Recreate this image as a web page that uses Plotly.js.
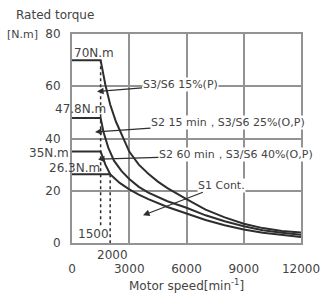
<!DOCTYPE html>
<html>
<head>
<meta charset="utf-8">
<script src="https://cdn.plot.ly/plotly-3.0.1.min.js"></script>
<style>html,body{margin:0;padding:0;background:#fff}#chart{width:325px;height:293px}</style>
</head>
<body>
<div id="chart"></div>
<script>
// Motor speed [min^-1] and rated torque [N.m]
const speedS3_15 = [0, 1500, 1750, 2000, 2300, 2700, 3000, 3500, 4000, 4500, 5000, 6000, 7000, 8000, 9000, 10000, 11000, 12000];
const torqueS3_15 = [70, 70, 60.5, 53, 46.5, 40, 35, 30, 26.5, 23.5, 21, 16.8, 12.8, 9.8, 7.4, 5.7, 4.6, 4.0];

const speedS2_15 = [0, 1500, 1650, 1900, 2200, 2600, 3000, 3500, 4000, 5000, 6000, 7000, 8000, 9000, 10000, 11000, 12000];
const torqueS2_15 = [47.8, 47.8, 42.5, 36.5, 31.5, 27.5, 24.5, 21.5, 19.3, 16, 13.5, 10.6, 8.3, 6.4, 4.9, 3.9, 3.2];

const speedS2_60 = [0, 1500, 1750, 2000];
const torqueS2_60 = [35, 35, 30, 26.3];

const speedS1 = [0, 2000, 2500, 3000, 3500, 4000, 5000, 6000, 7000, 8000, 9000, 10000, 11000, 12000];
const torqueS1 = [26.3, 26.3, 23, 20.5, 18.5, 16.8, 13.8, 11.2, 8.8, 6.8, 5.2, 3.9, 3.0, 2.3];

const markerSpeeds = [1500, 2000];
const dotted1500 = {x: [1500, 1500], y: [70, 6.8]};
const dotted2000 = {x: [2000, 2000], y: [26.3, 0]};

const xTicks = [0, 3000, 6000, 9000, 12000];
const yTicks = [0, 20, 40, 60, 80];

const curveLabels = {
  s3: "S3/S6 15%(P)",
  s215: "S2 15 min，S3/S6 25%(O,P)",
  s260: "S2 60 min，S3/S6 40%(O,P)",
  s1: "S1 Cont."
};

const ink = "#2e2e2e";
const txt = "#444444";
const grid = "#939393";
const fontFam = "'DejaVu Sans', sans-serif";

function curve(x, y, name) {
  return {x: x, y: y, type: "scatter", mode: "lines", name: name,
    line: {color: ink, width: 2}, hoverinfo: "skip"};
}
function dotted(d) {
  return {x: d.x, y: d.y, type: "scatter", mode: "lines",
    line: {color: ink, width: 1.5, dash: "dot"}, hoverinfo: "skip"};
}

const data = [
  dotted(dotted1500), dotted(dotted2000),
  curve(speedS3_15, torqueS3_15, curveLabels.s3),
  curve(speedS2_15, torqueS2_15, curveLabels.s215),
  curve(speedS2_60, torqueS2_60, curveLabels.s260),
  curve(speedS1, torqueS1, curveLabels.s1)
];

function lbl(x, y, text, xanchor, xref, yref) {
  return {x: x, y: y, xref: xref || "x", yref: yref || "y", text: text, showarrow: false,
    xanchor: xanchor || "center", yanchor: "middle", font: {size: 12, color: txt, family: fontFam}};
}
function arr(tx, ty, hx, hy, text) {
  return {x: hx, y: hy, ax: tx, ay: ty, axref: "x", ayref: "y", xref: "x", yref: "y",
    text: text, showarrow: true, arrowhead: 2, arrowsize: 1.1, arrowwidth: 1.2, arrowcolor: ink,
    bgcolor: "#ffffff", borderpad: 0, font: {size: 11, color: txt, family: fontFam}};
}

const layout = {
  width: 325, height: 293,
  margin: {l: 72, r: 24, t: 34, b: 50},
  paper_bgcolor: "#fff", plot_bgcolor: "#fff",
  showlegend: false,
  font: {family: fontFam, size: 12, color: txt},
  xaxis: {range: [0, 12000], tickvals: xTicks, ticktext: xTicks.map(String),
    showgrid: true, gridcolor: grid, gridwidth: 2, zeroline: false,
    showline: true, mirror: true, linecolor: grid, linewidth: 2,
    ticks: "", ticklabelstandoff: 14, tickfont: {size: 12, color: txt}},
  yaxis: {range: [0, 80], tickvals: yTicks, ticktext: yTicks.map(String),
    showgrid: true, gridcolor: grid, gridwidth: 2, zeroline: false,
    showline: true, mirror: true, linecolor: grid, linewidth: 2,
    ticks: "", ticklabelstandoff: 7, tickfont: {size: 12, color: txt}},
  annotations: [
    {xref: "paper", yref: "paper", x: -58/229, y: 1.0 + 19/209, xanchor: "left", yanchor: "middle",
      text: "Rated torque", showarrow: false, font: {size: 12, color: txt, family: fontFam}},
    {xref: "paper", yref: "paper", x: -67/229, y: 1.0, xanchor: "left", yanchor: "middle",
      text: "[N.m]", showarrow: false, font: {size: 11, color: txt, family: fontFam}},
    {xref: "paper", yref: "paper", x: 0.5, y: -42/209, xanchor: "center", yanchor: "middle",
      text: "Motor speed[min<sup>-1</sup>]", showarrow: false, font: {size: 12, color: txt, family: fontFam}},
    lbl(0, 72.8, "70N.m", "left"),
    lbl(440, 51.3, "47.8N.m"),
    lbl(-1/229, 34.3, "35N.m", "right", "paper", "y"),
    lbl(130, 28.8, "26.3N.m"),
    lbl(1127, 3.3, String(markerSpeeds[0])),
    lbl(2122, -11.6/208.4, String(markerSpeeds[1]), "center", "x", "paper"),
    arr(5660, 60.5, 1310, 58, curveLabels.s3),
    arr(8175, 46, 1205, 42.5, curveLabels.s215),
    arr(8590, 33.7, 1360, 32.1, curveLabels.s260),
    arr(7810, 22.1, 3720, 10.6, curveLabels.s1)
  ]
};

Plotly.newPlot("chart", data, layout, {displayModeBar: false, staticPlot: true});
</script>
</body>
</html>
